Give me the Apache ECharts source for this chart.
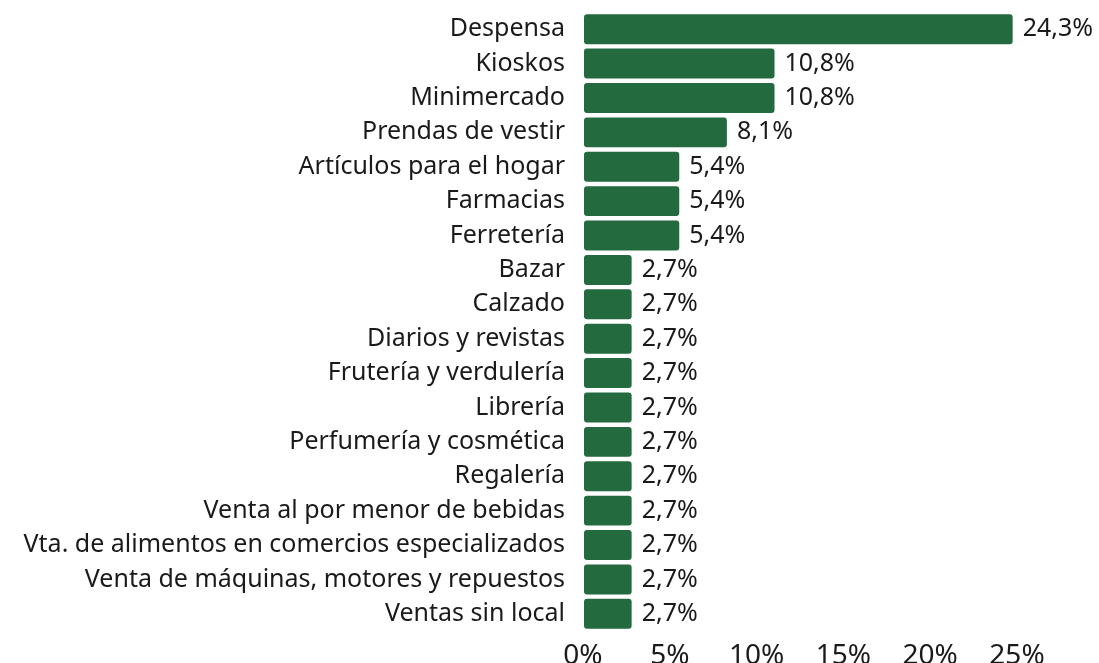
<!DOCTYPE html>
<html>
<head>
<meta charset="utf-8">
<script src="https://cdn.jsdelivr.net/npm/echarts@6/dist/echarts.min.js"></script>
<style>
  html, body { margin: 0; padding: 0; background: #fff; }
  #chart { width: 1099px; height: 663px; }
</style>
</head>
<body>
<div id="chart"></div>
<script>
// rubros y porcentajes
const categories = [
  'Despensa', 'Kioskos', 'Minimercado', 'Prendas de vestir',
  'Artículos para el hogar', 'Farmacias', 'Ferretería', 'Bazar',
  'Calzado', 'Diarios y revistas', 'Frutería y verdulería', 'Librería',
  'Perfumería y cosmética', 'Regalería', 'Venta al por menor de bebidas',
  'Vta. de alimentos en comercios especializados',
  'Venta de máquinas, motores y repuestos', 'Ventas sin local'
]
const values = [24.3, 10.8, 10.8, 8.1, 5.4, 5.4, 5.4, 2.7, 2.7, 2.7, 2.7, 2.7, 2.7, 2.7, 2.7, 2.7, 2.7, 2.7]
const xTicks = [0, 5, 10, 15, 20, 25]

const fmt = v => v.toFixed(1).replace('.', ',') + '%'

const chart = echarts.init(document.getElementById('chart'))
chart.setOption({
  animation: false,
  textStyle: { fontFamily: 'Noto Sans' },
  grid: [
    // barras
    { left: 584, right: 74, top: 12, bottom: 32, outerBoundsMode: 'none', containLabel: false },
    // solo etiquetas del eje x
    { left: 583, right: 82, top: 12, bottom: 32, outerBoundsMode: 'none', containLabel: false }
  ],
  xAxis: [
    {
      type: 'value',
      gridIndex: 0,
      min: xTicks[0],
      max: xTicks[xTicks.length - 1],
      interval: 5,
      show: false
    },
    {
      type: 'value',
      gridIndex: 1,
      min: xTicks[0],
      max: xTicks[xTicks.length - 1],
      interval: 5,
      axisLine: { show: false },
      axisTick: { show: false },
      splitLine: { show: false },
      axisLabel: {
        fontSize: 28,
        color: '#1a1a1a',
        margin: 11,
        formatter: v => v + '%'
      }
    }
  ],
  yAxis: [
    {
      type: 'category',
      gridIndex: 0,
      inverse: true,
      data: categories,
      axisLine: { show: false },
      axisTick: { show: false },
      axisLabel: { fontSize: 25, color: '#1a1a1a', margin: 19 }
    },
    {
      type: 'category',
      gridIndex: 1,
      data: categories,
      show: false
    }
  ],
  series: [{
    type: 'bar',
    xAxisIndex: 0,
    yAxisIndex: 0,
    data: values,
    barCategoryGap: '13%',
    itemStyle: { color: '#236a3e', borderRadius: 3 },
    label: {
      show: true,
      position: 'right',
      distance: 10,
      fontSize: 25,
      color: '#1a1a1a',
      formatter: p => fmt(p.value)
    }
  }]
})
</script>
</body>
</html>
